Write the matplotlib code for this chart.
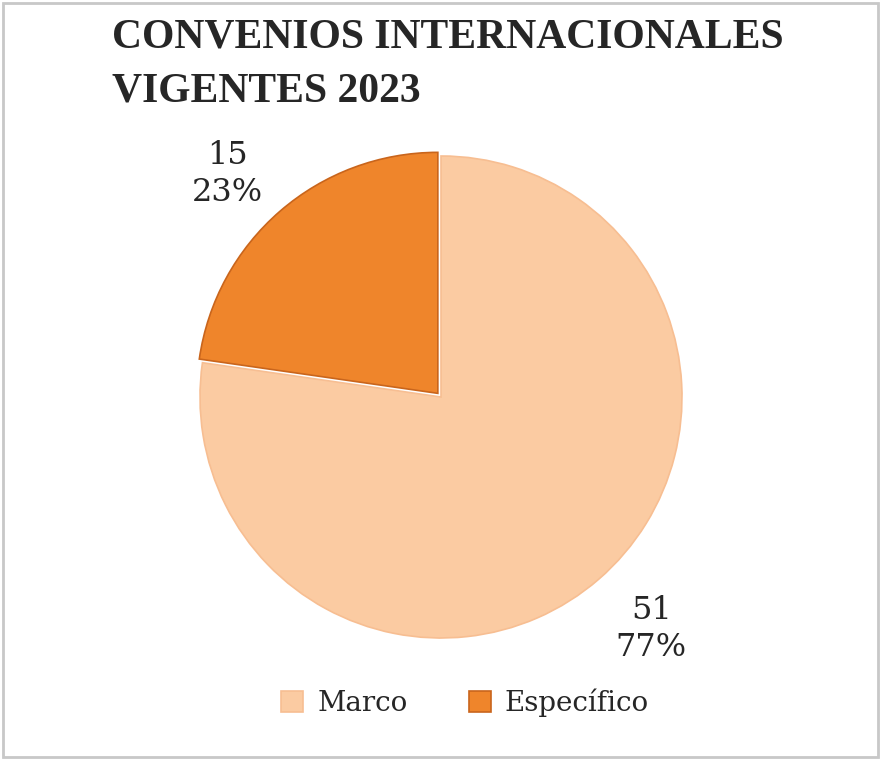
import matplotlib.pyplot as plt
from matplotlib.patches import Rectangle

categories = ['Marco', 'Específico']
values = [51, 15]
colors = ['#FBCBA2', '#EF852B']
edges = ['#F7BE92', '#C9651C']
explode = [0, 0.02]
title_lines = ['CONVENIOS INTERNACIONALES', 'VIGENTES 2023']

W, H = 881, 759
fig = plt.figure(figsize=(W / 100, H / 100), dpi=100)

# border of the chart area
fig.add_artist(Rectangle((3 / W, 2 / H), (W - 6) / W, (H - 5) / H,
                         transform=fig.transFigure, fill=False,
                         edgecolor='#C8C8C8', linewidth=2))

for line, base in zip(title_lines, [48, 102]):
    fig.text(112 / W, 1 - base / H, line, ha='left', va='baseline',
             family='Liberation Serif', weight='bold', fontsize=30,
             color='#262626')

# pie axes: radius 1 -> 241 px, centre at (441, 397)
cx, cy, r = 441, 397, 241
ax = fig.add_axes([(cx - r) / W, 1 - (cy + r) / H, 2 * r / W, 2 * r / H])
ax.set_axis_off()

total = sum(values)


def fmt(pct):
    v = int(round(pct * total / 100))
    return f'{v}\n{pct:.0f}%'


wedges, texts, autotexts = ax.pie(
    values, colors=colors, startangle=90, counterclock=False,
    explode=explode, autopct=fmt, pctdistance=1.24, radius=1,
    wedgeprops=dict(linewidth=1.2), frame=False,
    textprops=dict(family='DejaVu Serif', fontsize=23, color='#262626'))
for w, ec in zip(wedges, edges):
    w.set_edgecolor(ec)
    w.set_clip_on(False)
for t in autotexts:
    x, y = t.get_position()
    t.set_position((x * 1.075, y - 0.025))
    t.set_linespacing(1.25)
ax.set_xlim(-1, 1)
ax.set_ylim(-1, 1)

leg = fig.legend(wedges, categories, loc='center', ncol=2,
                 bbox_to_anchor=(465 / W, 1 - 703 / H), frameon=False,
                 prop=dict(family='DejaVu Serif', size=20),
                 handlelength=0.8, handleheight=0.8, handletextpad=0.5,
                 columnspacing=2.2)
for t in leg.get_texts():
    t.set_color('#262626')

fig.savefig('out.png', dpi=100)
